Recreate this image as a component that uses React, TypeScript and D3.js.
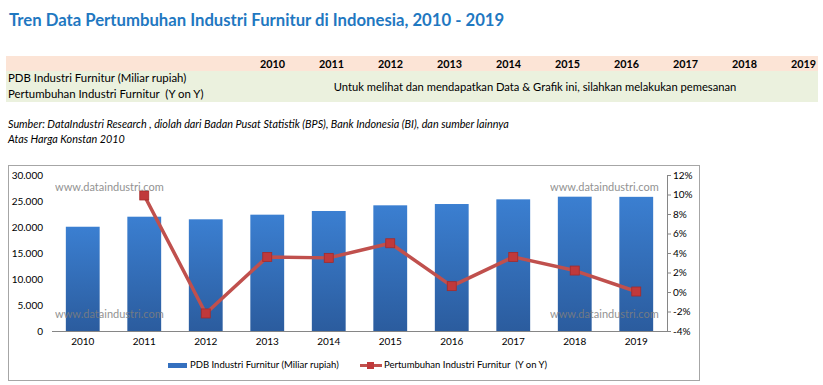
import * as d3 from "d3";

const YEARS = ["2010", "2011", "2012", "2013", "2014", "2015", "2016", "2017", "2018", "2019"];
// PDB Industri Furnitur (Miliar rupiah)
const PDB = [20050, 21980, 21480, 22370, 23080, 24170, 24420, 25320, 25830, 25800];
// Pertumbuhan (Y on Y), percent; 2010 has no value
const GROWTH: (number | null)[] = [null, 9.9, -2.2, 3.6, 3.5, 5.0, 0.6, 3.6, 2.2, 0.05];
const LEFT_TICKS = [0, 5000, 10000, 15000, 20000, 25000, 30000];
const RIGHT_TICKS = [-4, -2, 0, 2, 4, 6, 8, 10, 12];

const W = 823;
const H = 385;
const FONT = "Lato, 'Open Sans', sans-serif";

// chart box
const PLOT = { left: 52, right: 667, top: 175, bottom: 331 };

const fmtThousands = (v: number) =>
  v === 0 ? "0" : d3.format(",")(v).replace(/,/g, ".");

export default function App() {
  const x = d3.scaleBand().domain(YEARS).range([PLOT.left, PLOT.right]).paddingInner(0.45).paddingOuter(0.225);
  const xc = (yr: string) => (x(yr) ?? 0) + x.bandwidth() / 2;
  const yL = d3.scaleLinear().domain([0, 30000]).range([PLOT.bottom, PLOT.top]);
  const yR = d3.scaleLinear().domain([-4, 12]).range([PLOT.bottom, PLOT.top]);

  const pts = YEARS.map((yr, i) => ({ yr, v: GROWTH[i] })).filter(d => d.v !== null) as { yr: string; v: number }[];
  const line = d3.line<{ yr: string; v: number }>().x(d => xc(d.yr)).y(d => yR(d.v));

  // header table year columns, right aligned
  const colRight = d3.scalePoint().domain(YEARS).range([285, 816]);

  const watermarks = [
    { x: 55, y: 191 },
    { x: 55, y: 318 },
    { x: 550, y: 191 },
    { x: 550, y: 318 },
  ];

  return (
    <svg width={W} height={H} style={{ position: "absolute", left: 0, top: 0, background: "#fff" }} fontFamily={FONT}>
      <defs>
        <linearGradient id="barGrad" x1="0" y1="0" x2="0" y2="1">
          <stop offset="0%" stopColor="#3b7fd1" />
          <stop offset="100%" stopColor="#2b5c9e" />
        </linearGradient>
      </defs>
      <rect width={W} height={H} fill="#fff" />

      {/* title */}
      <text x={9} y={26} fontSize={16.7} fontWeight={700} fill="#1f78c1">
        Tren Data Pertumbuhan Industri Furnitur di Indonesia, 2010 - 2019
      </text>

      {/* table */}
      <rect x={6} y={56} width={812} height={15} fill="#fce4d6" />
      <rect x={6} y={71} width={812} height={31} fill="#ebf1de" />
      {YEARS.map(yr => (
        <text key={yr} x={colRight(yr)} y={68} fontSize={10.8} fontWeight={700} textAnchor="end" fill="#000">
          {yr}
        </text>
      ))}
      <text x={8} y={82} fontSize={11.4} fill="#000">PDB Industri Furnitur (Miliar rupiah)</text>
      <text x={8} y={98} fontSize={11.4} fill="#000">{"Pertumbuhan Industri Furnitur \u00a0(Y on Y)"}</text>
      <text x={535} y={91} fontSize={11.2} textAnchor="middle" fill="#000">
        Untuk melihat dan mendapatkan Data &amp; Grafik ini, silahkan melakukan pemesanan
      </text>

      {/* source */}
      <text x={8} y={128} fontSize={10.8} fontStyle="italic" fill="#000">
        Sumber: DataIndustri Research , diolah dari Badan Pusat Statistik (BPS), Bank Indonesia (BI), dan sumber lainnya
      </text>
      <text x={8} y={143} fontSize={10.8} fontStyle="italic" fill="#000">Atas Harga Konstan 2010</text>

      {/* chart frame */}
      <rect x={8.5} y={165.5} width={691} height={215} fill="#fff" stroke="#a6a6a6" strokeWidth={1} />

      {/* bars */}
      {YEARS.map((yr, i) => (
        <rect key={yr} x={x(yr)} y={yL(PDB[i])} width={x.bandwidth()} height={PLOT.bottom - yL(PDB[i])} fill="url(#barGrad)" />
      ))}

      {/* left axis */}
      {LEFT_TICKS.map(t => (
        <text key={t} x={43} y={yL(t)} dy="0.35em" fontSize={10} textAnchor="end" fill="#000">
          {fmtThousands(t)}
        </text>
      ))}

      {/* category axis */}
      <line x1={PLOT.left} x2={PLOT.right} y1={PLOT.bottom + 0.5} y2={PLOT.bottom + 0.5} stroke="#868686" />
      {YEARS.map(yr => (
        <text key={yr} x={xc(yr)} y={345} fontSize={10} textAnchor="middle" fill="#000">
          {yr}
        </text>
      ))}

      {/* right axis */}
      <line x1={PLOT.right + 0.5} x2={PLOT.right + 0.5} y1={PLOT.top} y2={PLOT.bottom} stroke="#868686" />
      {RIGHT_TICKS.map(t => (
        <g key={t}>
          <line x1={PLOT.right} x2={PLOT.right + 4} y1={yR(t) + 0.5} y2={yR(t) + 0.5} stroke="#868686" />
          <text x={673} y={yR(t)} dy="0.35em" fontSize={10} fill="#000">
            {t}%
          </text>
        </g>
      ))}

      {/* growth line */}
      <path d={line(pts) ?? ""} fill="none" stroke="#c0504d" strokeWidth={3.5} strokeLinejoin="round" />
      {pts.map(d => (
        <rect key={d.yr} x={xc(d.yr) - 4.5} y={yR(d.v) - 4.5} width={9} height={9} fill="#c0393b" stroke="#a52a2a" strokeWidth={0.8} />
      ))}

      {/* watermarks */}
      {watermarks.map((w, i) => (
        <text key={i} x={w.x} y={w.y} fontSize={11} fill="#7f7f7f" opacity={0.85}>
          www.dataindustri.com
        </text>
      ))}

      {/* legend */}
      <rect x={168} y={363} width={19} height={5} fill="#3470bf" />
      <text x={190} y={365} dy="0.35em" fontSize={9.5} fill="#000">PDB Industri Furnitur (Miliar rupiah)</text>
      <line x1={360} x2={382} y1={365.5} y2={365.5} stroke="#c0504d" strokeWidth={3} />
      <rect x={367} y={362} width={7} height={7} fill="#c0393b" />
      <text x={384} y={365} dy="0.35em" fontSize={9.5} fill="#000">{"Pertumbuhan Industri Furnitur \u00a0(Y on Y)"}</text>
    </svg>
  );
}
